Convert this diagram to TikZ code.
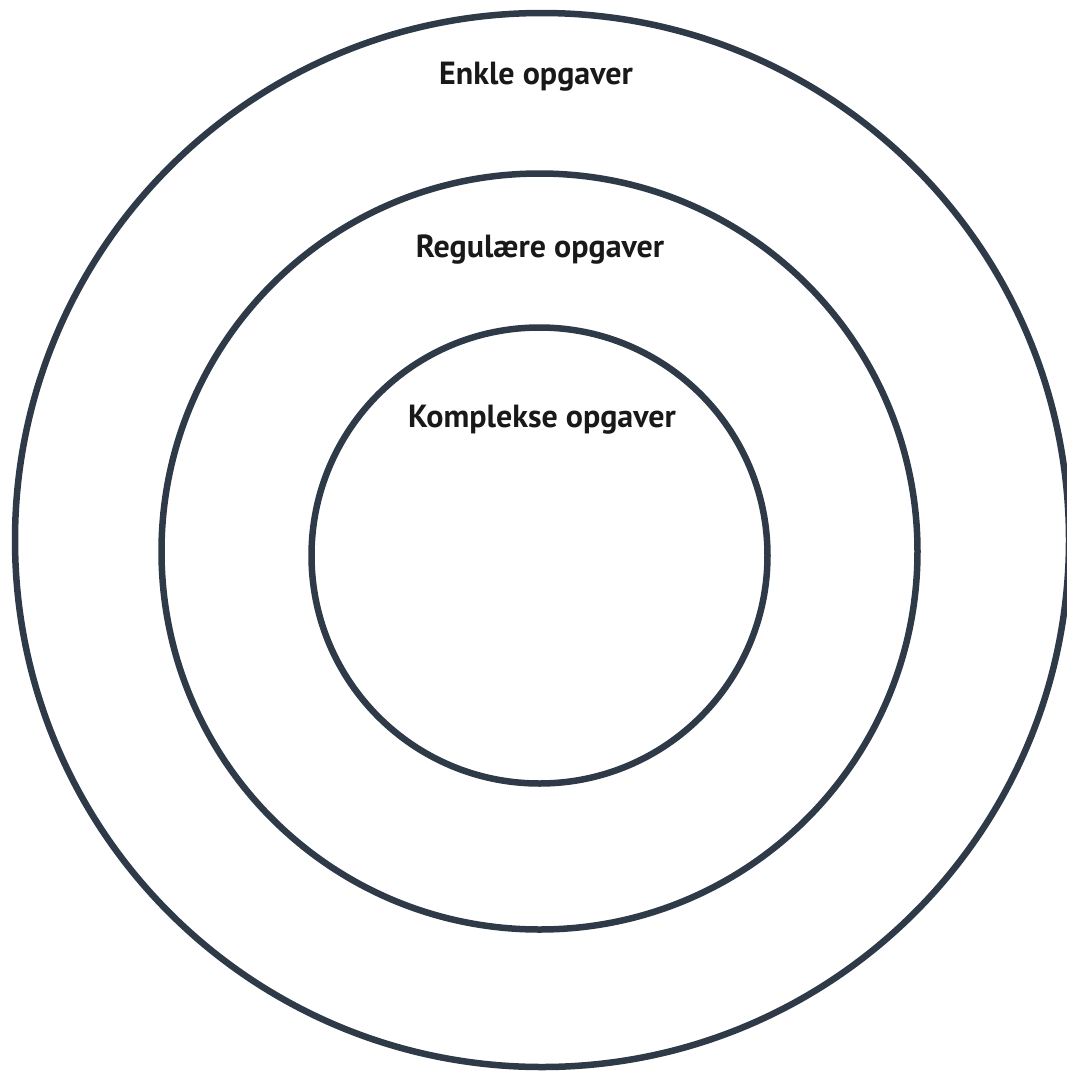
\documentclass[tikz,border=0pt]{standalone}
\usepackage{fontspec}
\setmainfont{PT Sans}
\definecolor{ringcol}{HTML}{2F3A48}
\begin{document}
\begin{tikzpicture}[x=1pt, y=-1pt,
	ring/.style={circle, draw=ringcol, line width=6.5pt, inner sep=0pt},
	lbl/.style={font=\fontsize{32}{36}\selectfont\bfseries, text=black!90}]
	\useasboundingbox (0,0) rectangle (1067,1072);
	\begin{scope}
	\clip (0,0) rectangle (1067,1072);
	\node[ring, minimum size=1054pt] (outer) at (542,540) {};
	\node[ring, minimum size=756pt] (middle) at (539.5,551.5) {};
	\node[ring, minimum size=456pt] (inner) at (539.5,555.5) {};
	\end{scope}
	
	\node[lbl] (enkle) at (536,77) {Enkle opgaver};
	\node[lbl] (regul) at (540,250) {Regulære opgaver};
	\node[lbl] (kompl) at (542,420) {Komplekse opgaver};
\end{tikzpicture}
\end{document}
